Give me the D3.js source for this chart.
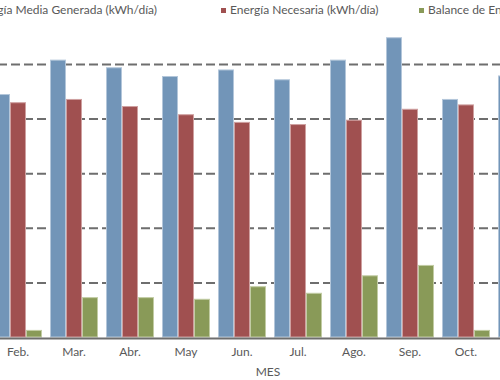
<!DOCTYPE html>
<html>
<head>
<meta charset="utf-8">
<script src="https://cdn.jsdelivr.net/npm/d3@7"></script>
<style>
  body { margin: 0; background: #fff; overflow: hidden; }
  text { font-family: "Century Gothic", Lato, sans-serif; fill: #595959; }
</style>
</head>
<body>
<div id="chartContainer"></div>
<script>
// data (kWh/dia)
var months = ["Feb.", "Mar.", "Abr.", "May", "Jun.", "Jul.", "Ago.", "Sep.", "Oct.", "Nov."];
var generada = [4.45, 5.08, 4.94, 4.78, 4.90, 4.72, 5.08, 5.49, 4.36, 4.79];
var necesaria = [4.30, 4.36, 4.23, 4.08, 3.94, 3.90, 3.98, 4.18, 4.26, 4.30];
var balance = [0.13, 0.73, 0.73, 0.70, 0.93, 0.81, 1.13, 1.32, 0.13, 0.49];
var seriesNames = ["Energía Media Generada (kWh/día)", "Energía Necesaria (kWh/día)", "Balance de Energía (kWh/día)"];
var gridTicks = [1, 2, 3, 4, 5];

var colors = ["#7295b8", "#a05050", "#899a58"];
var edges = ["#b3c6da", "#cfa0a0", "#c2cca4"];

var svg = d3.select("#chartContainer").append("svg")
  .attr("width", 500)
  .attr("height", 380);

// the chart is wider than the window, so only part of it shows
var x0 = d3.scaleBand()
  .domain(months)
  .range([-10, 550])
  .paddingInner(1 / 7)
  .paddingOuter(1 / 14);

var x1 = d3.scaleBand()
  .domain(d3.range(3))
  .range([0, x0.bandwidth()]);

var y = d3.scaleLinear()
  .domain([0, 6])
  .range([337, 337 - 6 * 54.6]);

// dashed gridlines
var grid = svg.append("g")
  .attr("transform", "translate(-80,0)")
  .call(d3.axisLeft(y).tickValues(gridTicks).tickSize(-700).tickFormat(""));
grid.select(".domain").remove();
grid.selectAll(".tick line")
  .attr("stroke", "#6e6e6e")
  .attr("stroke-width", 2)
  .attr("stroke-dasharray", "9,4");

var rows = months.map(function (m, i) {
  return { month: m, values: [generada[i], necesaria[i], balance[i]] };
});

var groups = svg.selectAll("g.month")
  .data(rows)
  .enter()
  .append("g")
  .attr("class", "month")
  .attr("transform", function (d) { return "translate(" + x0(d.month) + ",0)"; });

groups.selectAll("rect")
  .data(function (d) { return d.values; })
  .enter()
  .append("rect")
  .attr("x", function (d, i) { return x1(i) + 0.5; })
  .attr("y", function (d) { return y(d) + 0.5; })
  .attr("width", x1.bandwidth() - 1)
  .attr("height", function (d) { return y(0) - y(d) - 0.5; })
  .attr("fill", function (d, i) { return colors[i]; })
  .attr("stroke", function (d, i) { return edges[i]; })
  .attr("stroke-width", 1);

// x axis
var xAxis = svg.append("g")
  .attr("transform", "translate(0,338)")
  .call(d3.axisBottom(x0).tickSize(0).tickPadding(9));
xAxis.select(".domain")
  .attr("stroke", "#6e6e6e")
  .attr("stroke-width", 2);
xAxis.selectAll("text")
  .style("font-size", "12px")
  .style("font-family", "\"Century Gothic\", Lato, sans-serif")
  .attr("fill", "#595959");

svg.append("text")
  .attr("x", 268)
  .attr("y", 376)
  .style("text-anchor", "middle")
  .style("font-size", "12px")
  .text("MES");

// legend, first entry runs off the left edge
var legendX = [null, 221, 419];
var legend = svg.selectAll("g.legend")
  .data(seriesNames)
  .enter()
  .append("g")
  .attr("class", "legend");

legend.append("text")
  .attr("y", 14)
  .style("font-size", "12px")
  .text(function (d) { return d; });

legend.each(function (d, i) {
  var g = d3.select(this);
  var w = g.select("text").node().getComputedTextLength();
  var mx = legendX[i] !== null ? legendX[i] : 157 - w - 9;
  g.select("text").attr("x", mx + 9);
  g.append("rect")
    .attr("x", mx)
    .attr("y", 8)
    .attr("width", 5)
    .attr("height", 5)
    .attr("fill", colors[i]);
});
</script>
</body>
</html>
